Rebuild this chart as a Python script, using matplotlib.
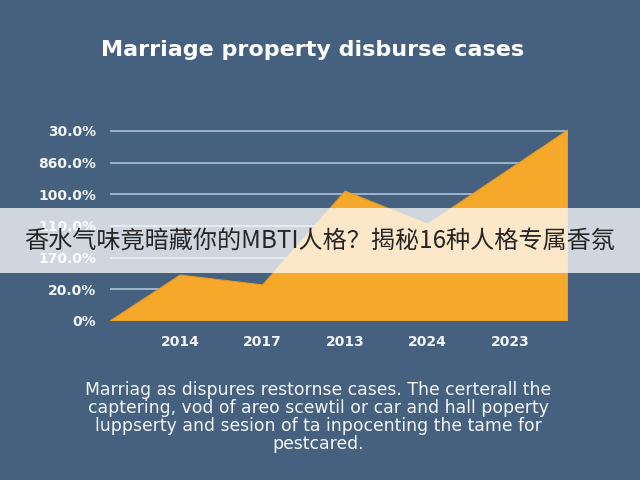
import matplotlib
matplotlib.use("Agg")
import matplotlib.pyplot as plt
from matplotlib.patches import Rectangle

# data
years = ["2014", "2017", "2013", "2024", "2023"]
year_pos = [0, 1, 2, 3, 4]
area_x = [-0.85, 0, 1, 2, 3, 4.7, 4.7]
area_y = [0, 1.45, 1.14, 4.1, 3.06, 6.03, 0]
y_ticks = [0, 1, 2, 3, 4, 5, 6]
y_labels = ["0%", "20.0%", "170.0%", "110.0%", "100.0%", "860.0%", "30.0%"]

title = "Marriage property disburse cases"
banner = "香水气味竟暗藏你的MBTI人格？揭秘16种人格专属香氛"
caption = ("Marriag as dispures restornse cases. The certerall the\n"
           "captering, vod of areo scewtil or car and hall poperty\n"
           "luppserty and sesion of ta inpocenting the tame for\n"
           "pestcared.")

bg = "#45617f"
orange = "#f6a82a"
W, H = 640, 480

fig = plt.figure(figsize=(6.4, 4.8), dpi=100, facecolor=bg)

# axes placed by pixel box
left_px, right_px, top_px, bottom_px = 110, 568, 129, 321
ax = fig.add_axes([left_px / W, 1 - bottom_px / H,
                   (right_px - left_px) / W, (bottom_px - top_px) / H])
ax.set_facecolor(bg)
ax.set_xlim(-0.85, 4.7)
ax.set_ylim(0, 6.06)

ax.fill(area_x, area_y, color=orange, edgecolor="#e39a22", linewidth=0.8, zorder=3)

ax.set_yticks(y_ticks)
ax.set_yticklabels(y_labels)
ax.set_xticks(year_pos)
ax.set_xticklabels(years)
ax.grid(axis="y", color="#9fb4c9", linewidth=1.4, zorder=1)
ax.tick_params(length=0, colors="#f2f4f6", labelsize=10)
ax.tick_params(axis="y", pad=10)
ax.tick_params(axis="x", pad=10)
for lab in ax.get_xticklabels() + ax.get_yticklabels():
    lab.set_fontweight("bold")
for s in ax.spines.values():
    s.set_visible(False)

fig.text(313 / W, 1 - 50 / H, title, ha="center", va="center", color="white",
         fontsize=16, fontweight="bold")

fig.text(318 / W, 1 - 417 / H, caption, ha="center", va="center", color="#f4f6f8",
         fontsize=12.4, linespacing=0.98)

# translucent banner across the middle
fig.patches.append(Rectangle((0, 1 - 273 / H), 1, 65 / H, transform=fig.transFigure,
                             facecolor="white", alpha=0.75, edgecolor="none", zorder=5))
fig.text(320 / W, 1 - 242 / H, banner, ha="center", va="center", color="#262626",
         fontsize=17.4, family=["Noto Sans CJK SC", "DejaVu Sans"], zorder=6)

fig.savefig("out.png", dpi=100, facecolor=bg)
